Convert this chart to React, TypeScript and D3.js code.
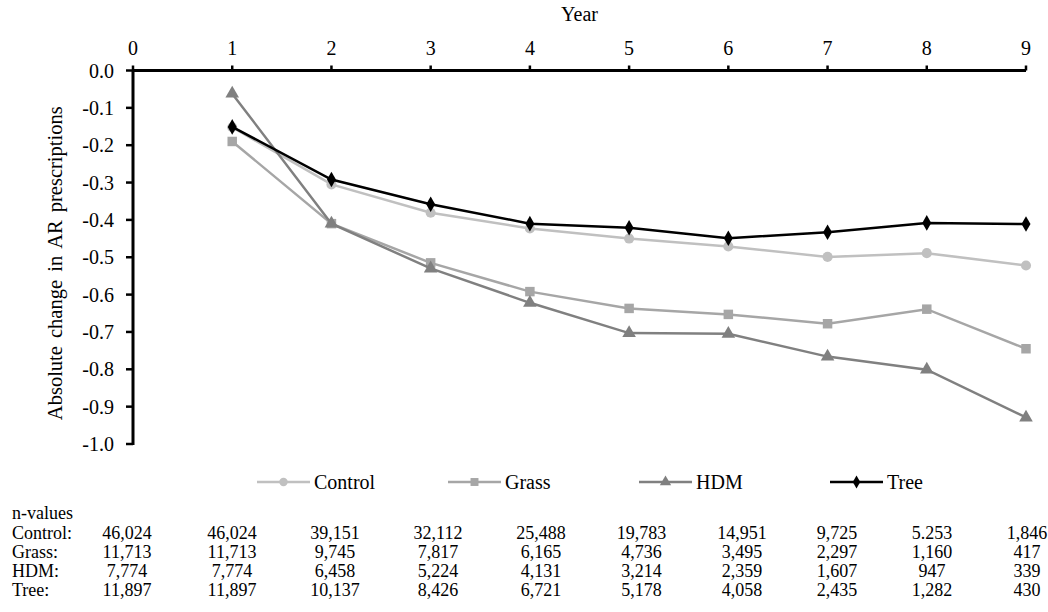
import React from "react";
import * as d3 from "d3";

const years = [1, 2, 3, 4, 5, 6, 7, 8, 9];
const xTicks = [0, 1, 2, 3, 4, 5, 6, 7, 8, 9];
const yTicks = [0, -0.1, -0.2, -0.3, -0.4, -0.5, -0.6, -0.7, -0.8, -0.9, -1.0];

const control = [-0.152, -0.305, -0.381, -0.423, -0.45, -0.471, -0.499, -0.489, -0.522];
const grass = [-0.19, -0.41, -0.515, -0.592, -0.637, -0.653, -0.678, -0.639, -0.745];
const hdm = [-0.062, -0.41, -0.53, -0.622, -0.703, -0.705, -0.766, -0.801, -0.929];
const tree = [-0.151, -0.292, -0.358, -0.41, -0.421, -0.449, -0.433, -0.408, -0.411];

const seriesNames = ["Control", "Grass", "HDM", "Tree"];

const nControl = ["46,024", "46,024", "39,151", "32,112", "25,488", "19,783", "14,951", "9,725", "5.253", "1,846"];
const nGrass = ["11,713", "11,713", "9,745", "7,817", "6,165", "4,736", "3,495", "2,297", "1,160", "417"];
const nHdm = ["7,774", "7,774", "6,458", "5,224", "4,131", "3,214", "2,359", "1,607", "947", "339"];
const nTree = ["11,897", "11,897", "10,137", "8,426", "6,721", "5,178", "4,058", "2,435", "1,282", "430"];

const W = 1048;
const H = 612;
const FONT = "'Liberation Serif', 'Times New Roman', serif";

const styles = [
  { color: "#c0c0c0", symbol: d3.symbolCircle, size: 80 },
  { color: "#a6a6a6", symbol: d3.symbolSquare, size: 90 },
  { color: "#808080", symbol: d3.symbolTriangle, size: 80 },
  { color: "#000000", symbol: d3.symbolDiamond, size: 70 },
];

export default function App() {
  const x = d3.scaleLinear().domain([0, 9]).range([133, 1026]);
  const y = d3.scaleLinear().domain([-1, 0]).range([444, 70.5]);
  const data = [control, grass, hdm, tree];
  const line = d3
    .line<number>()
    .x((_, i) => x(years[i]))
    .y((d) => y(d));

  // table column centers (layout)
  const colX = d3.scaleLinear().domain([0, 1, 4, 6, 9]).range([127, 232, 541, 742, 1027]);
  const rows = [
    { label: "Control:", vals: nControl },
    { label: "Grass:", vals: nGrass },
    { label: "HDM:", vals: nHdm },
    { label: "Tree:", vals: nTree },
  ];

  const legendX = d3.scaleLinear().domain([0, 3]).range([257, 830]);

  return (
    <svg
      width={W}
      height={H}
      style={{ position: "absolute", left: 0, top: 0, background: "#fff" }}
      fontFamily={FONT}
    >
      <rect width={W} height={H} fill="#fff" />
      <text x={(x(0) + x(9)) / 2} y={21} fontSize={20} textAnchor="middle">
        Year
      </text>
      <line x1={x(0)} x2={x(9)} y1={y(0)} y2={y(0)} stroke="#000" strokeWidth={3} />
      {xTicks.map((t) => (
        <g key={"xt" + t}>
          <line x1={x(t)} x2={x(t)} y1={y(0)} y2={y(0) - 5} stroke="#000" strokeWidth={2.5} />
          <text x={x(t)} y={55} fontSize={20} textAnchor="middle">
            {t}
          </text>
        </g>
      ))}
      <line x1={x(0)} x2={x(0)} y1={y(0)} y2={y(-1) + 1} stroke="#000" strokeWidth={3} />
      {yTicks.map((t) => (
        <g key={"yt" + t}>
          <line x1={x(0) - 7} x2={x(0)} y1={y(t)} y2={y(t)} stroke="#000" strokeWidth={2.5} />
          <text x={114} y={y(t) + 7} fontSize={20} textAnchor="end">
            {t.toFixed(1)}
          </text>
        </g>
      ))}
      <text
        transform={`translate(62, ${(y(0) + y(-1)) / 2 + 6}) rotate(-90)`}
        fontSize={20.5}
        textAnchor="middle"
        wordSpacing={3}
      >
        Absolute change in AR prescriptions
      </text>
      {data.map((vals, si) => (
        <g key={"s" + si}>
          <path d={line(vals) || ""} fill="none" stroke={styles[si].color} strokeWidth={2.5} />
          {vals.map((v, i) => (
            <path
              key={i}
              d={d3.symbol().type(styles[si].symbol).size(styles[si].size)() || ""}
              transform={`translate(${x(years[i])},${y(v)})`}
              fill={styles[si].color}
            />
          ))}
        </g>
      ))}
      {seriesNames.map((name, si) => {
        const lx = legendX(si);
        const ly = 482;
        return (
          <g key={"l" + si}>
            <line x1={lx} x2={lx + 53} y1={ly} y2={ly} stroke={styles[si].color} strokeWidth={2.5} />
            <path
              d={d3.symbol().type(styles[si].symbol).size(styles[si].size * 0.7)() || ""}
              transform={`translate(${lx + 26.5},${ly})`}
              fill={styles[si].color}
            />
            <text x={lx + 57} y={ly + 7} fontSize={20}>
              {name}
            </text>
          </g>
        );
      })}
      <text x={12} y={519} fontSize={18}>
        n-values
      </text>
      {rows.map((r, ri) => (
        <g key={"r" + ri}>
          <text x={12} y={539 + ri * 19} fontSize={18}>
            {r.label}
          </text>
          {r.vals.map((v, ci) => (
            <text key={ci} x={colX(ci)} y={539 + ri * 19} fontSize={18} textAnchor="middle">
              {v}
            </text>
          ))}
        </g>
      ))}
    </svg>
  );
}
